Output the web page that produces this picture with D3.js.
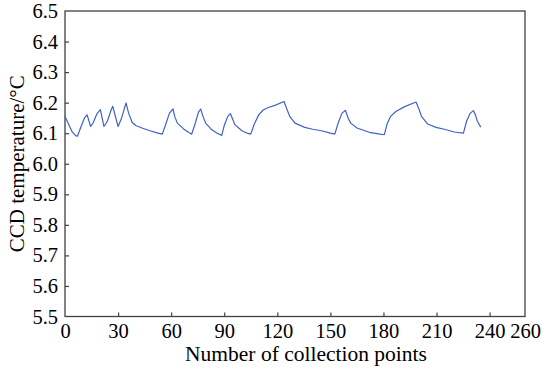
<!DOCTYPE html>
<html>
<head>
<meta charset="utf-8">
<script src="https://cdn.jsdelivr.net/npm/d3@7"></script>
<style>
    body { margin: 0; background: #fff; }
    text { font-family: "Liberation Serif", "Times New Roman", serif; fill: #000; }
</style>
</head>
<body>
<svg width="544" height="372"></svg>
<script>
// collection point index and CCD temperature
var points = [
        0, 2, 4, 6, 7, 9, 11, 12.5, 14.5, 16, 18, 20, 22, 24, 26, 27, 30, 32, 34.5, 36,
        38, 40, 43.5, 48, 52, 55, 57, 59, 61, 62, 63.5, 67, 70, 71.6, 73.5, 75.5, 76.7, 78, 79.5, 83,
        86, 88.6, 90, 92, 93.5, 94.5, 96, 100, 103, 105, 107, 109.5, 112, 115, 119, 123.8, 125, 127, 130, 135.5,
        140, 145, 150, 152.5, 154.5, 156.5, 158.5, 160, 161.5, 165, 172, 178, 180.5, 182, 184, 187, 192, 198.4, 200, 201.5,
        205, 209.7, 215, 220, 225.2, 227, 229, 230.8, 232, 233, 235
    ],
    temperature = [
        6.155, 6.13, 6.105, 6.092, 6.09, 6.12, 6.15, 6.16, 6.122, 6.135, 6.163, 6.177, 6.122, 6.14, 6.175, 6.188, 6.122, 6.15, 6.199, 6.165,
        6.135, 6.125, 6.117, 6.108, 6.101, 6.097, 6.13, 6.165, 6.18, 6.155, 6.133, 6.114, 6.102, 6.097, 6.13, 6.17, 6.179, 6.155, 6.133, 6.111,
        6.1, 6.093, 6.125, 6.155, 6.164, 6.15, 6.128, 6.108, 6.1, 6.097, 6.13, 6.16, 6.176, 6.184, 6.192, 6.204, 6.185, 6.155, 6.133, 6.119,
        6.113, 6.108, 6.1, 6.097, 6.135, 6.165, 6.175, 6.15, 6.133, 6.117, 6.103, 6.097, 6.095, 6.13, 6.155, 6.171, 6.187, 6.202, 6.18, 6.155,
        6.13, 6.119, 6.112, 6.104, 6.1, 6.14, 6.165, 6.174, 6.16, 6.14, 6.12
    ],
    xTicks = [ 0, 30, 60, 90, 120, 150, 180, 210, 240, 260 ],
    yTicks = [ 5.5, 5.6, 5.7, 5.8, 5.9, 6.0, 6.1, 6.2, 6.3, 6.4, 6.5 ];

var svg        = d3.select( 'svg' ),
    plotLeft   = 65,
    plotRight  = 525,
    plotTop    = 11,
    plotBottom = 316.5,
    axisColor  = '#404040',

    x = d3.scaleLinear().domain( [ 0, 260 ] ).range( [ plotLeft, plotRight ] ),
    y = d3.scaleLinear().domain( [ 5.5, 6.5 ] ).range( [ plotBottom, plotTop ] ),

    data = points.map( function( p, i ) {
        return { n : p, t : temperature[ i ] };
    } );

// frame
svg.append( 'rect' )
    .attr( 'x', plotLeft )
    .attr( 'y', plotTop )
    .attr( 'width', plotRight - plotLeft )
    .attr( 'height', plotBottom - plotTop )
    .attr( 'fill', 'none' )
    .attr( 'stroke', axisColor )
    .attr( 'stroke-width', 1.3 );

var xAxis = svg.append( 'g' )
    .attr( 'transform', 'translate(0,' + plotBottom + ')' )
    .call( d3.axisBottom( x )
        .tickValues( xTicks )
        .tickSizeInner( -4 )
        .tickSizeOuter( 0 )
        .tickPadding( 7 )
        .tickFormat( d3.format( 'd' ) ) );

var yAxis = svg.append( 'g' )
    .attr( 'transform', 'translate(' + plotLeft + ',0)' )
    .call( d3.axisLeft( y )
        .tickValues( yTicks )
        .tickSizeInner( -4 )
        .tickSizeOuter( 0 )
        .tickPadding( 7 )
        .tickFormat( d3.format( '.1f' ) ) );

[ xAxis, yAxis ].forEach( function( g ) {
    g.select( '.domain' ).remove();
    g.selectAll( 'line' ).attr( 'stroke', axisColor ).attr( 'stroke-width', 1.2 );
    g.selectAll( 'text' )
        .attr( 'font-family', '"Liberation Serif", serif' )
        .attr( 'font-size', 20.5 )
        .attr( 'fill', '#000' );
} );

// no tick mark at the frame corners
xAxis.selectAll( '.tick' ).filter( function( d ) { return d === 0 || d === 260; } ).select( 'line' ).remove();
yAxis.selectAll( '.tick' ).filter( function( d ) { return d === 5.5 || d === 6.5; } ).select( 'line' ).remove();

svg.append( 'path' )
    .datum( data )
    .attr( 'fill', 'none' )
    .attr( 'stroke', '#3f62c6' )
    .attr( 'stroke-width', 1.2 )
    .attr( 'stroke-linejoin', 'round' )
    .attr( 'd', d3.line()
        .x( function( d ) { return x( d.n ); } )
        .y( function( d ) { return y( d.t ); } ) );

svg.append( 'text' )
    .attr( 'x', 306 )
    .attr( 'y', 361 )
    .attr( 'text-anchor', 'middle' )
    .attr( 'font-size', 21.5 )
    .text( 'Number of collection points' );

svg.append( 'text' )
    .attr( 'transform', 'translate(24,' + ( ( plotTop + plotBottom ) / 2 ) + ') rotate(-90)' )
    .attr( 'text-anchor', 'middle' )
    .attr( 'font-size', 21 )
    .text( 'CCD temperature/°C' );
</script>
</body>
</html>
